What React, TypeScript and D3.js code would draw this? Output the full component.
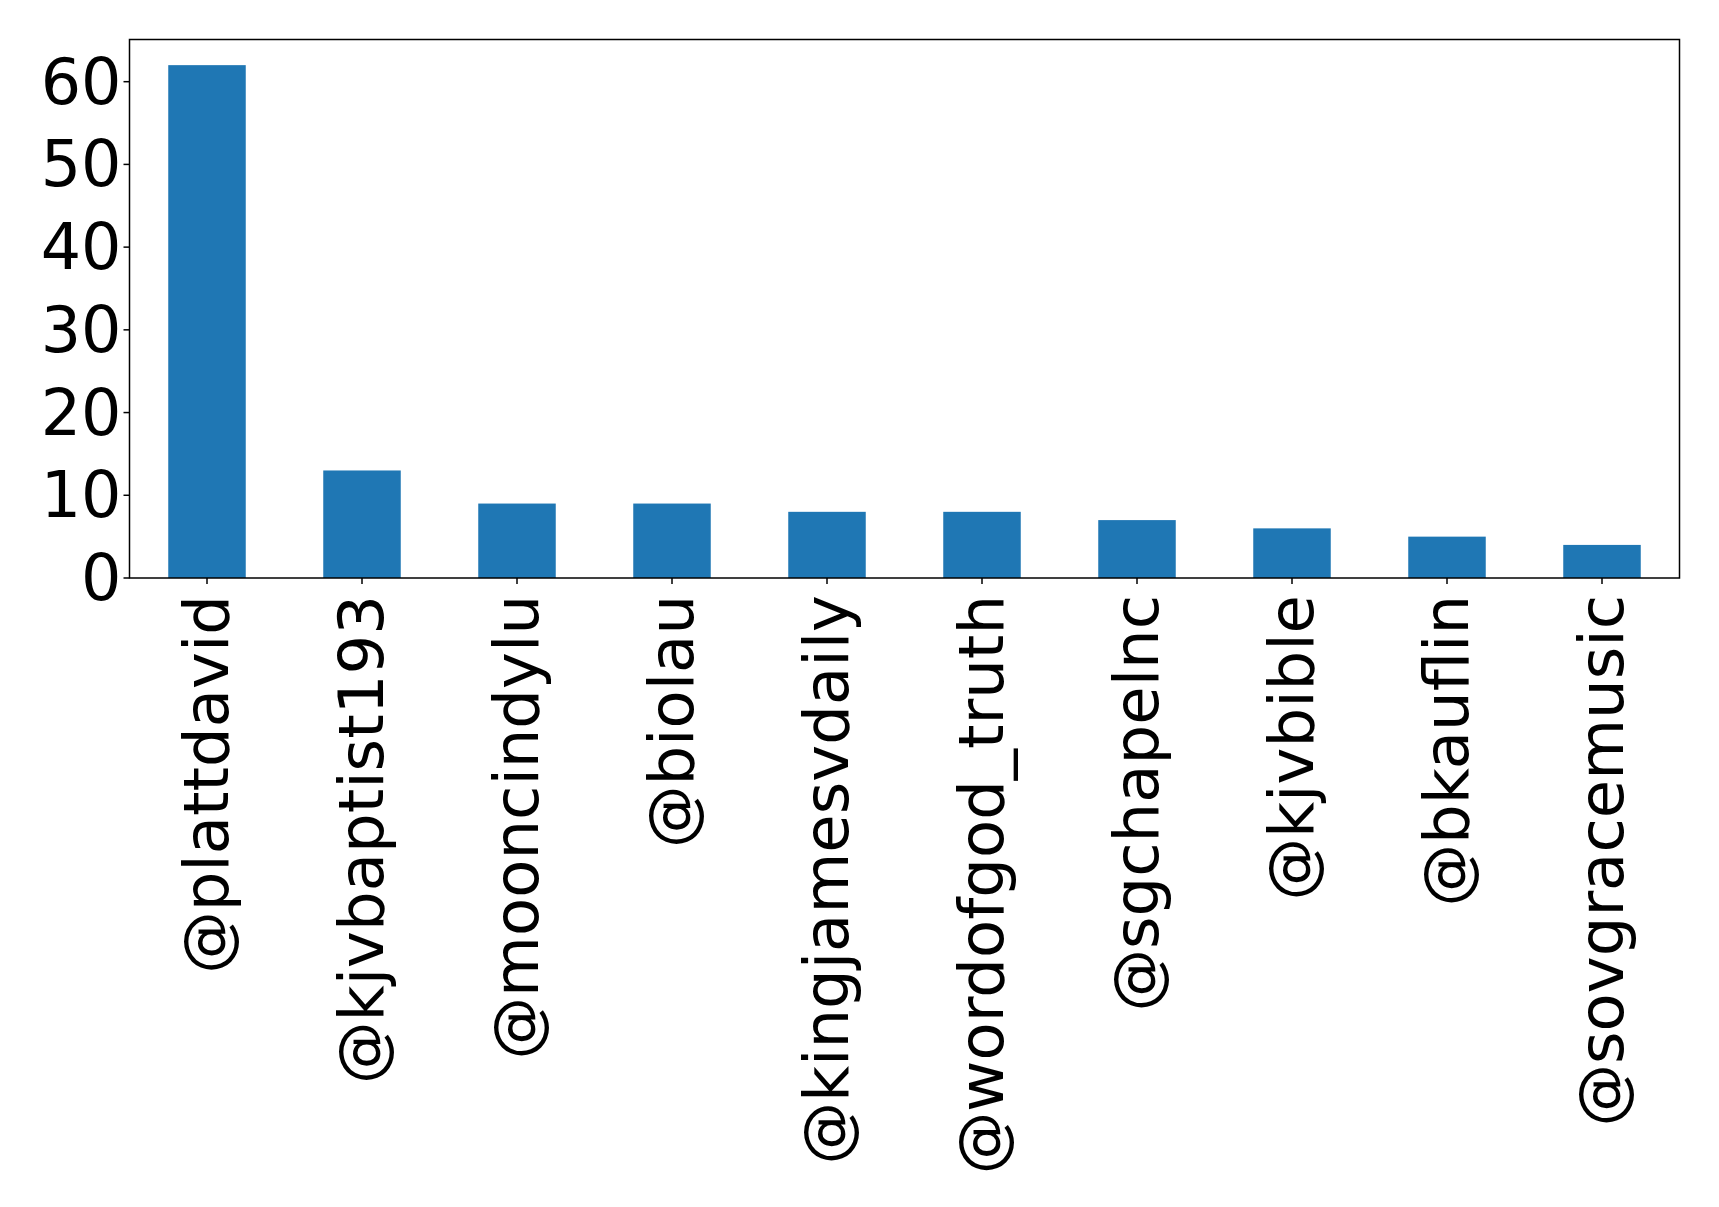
import React from "react";
import * as d3 from "d3";

const categories = [
  "@plattdavid",
  "@kjvbaptist193",
  "@mooncindylu",
  "@biolau",
  "@kingjamesvdaily",
  "@wordofgod_truth",
  "@sgchapelnc",
  "@kjvbible",
  "@bkauflin",
  "@sovgracemusic",
];
const values = [62, 13, 9, 9, 8, 8, 7, 6, 5, 4];
const yTicks = [0, 10, 20, 30, 40, 50, 60];

const W = 1719;
const H = 1207;
const left = 129.5;
const right = 1679.5;
const top = 39.5;
const bottom = 578;
const FONT = "DejaVu Sans, sans-serif";
const FS = 62.5;

export default function App() {
  const x = d3.scaleBand<string>().domain(categories).range([left, right]).paddingInner(0.5).paddingOuter(0.25);
  const yMax = d3.max(values)! * 1.05;
  const y = d3.scaleLinear().domain([0, yMax]).range([bottom, top]);

  return (
    <div style={{ position: "fixed", left: 0, top: 0, background: "#fff" }}>
      <svg width={W} height={H} style={{ display: "block" }}>
        <rect x={0} y={0} width={W} height={H} fill="#fff" />
        {categories.map((c, i) => (
          <rect
            key={c}
            x={x(c)}
            y={y(values[i])}
            width={x.bandwidth()}
            height={bottom - y(values[i])}
            fill="#1f77b4"
          />
        ))}
        <rect x={left} y={top} width={right - left} height={bottom - top} fill="none" stroke="#000" strokeWidth={1.5} />
        {yTicks.map((t) => (
          <g key={t}>
            <line x1={left - 6} x2={left} y1={y(t)} y2={y(t)} stroke="#000" strokeWidth={1.5} />
            <text
              x={left - 8}
              y={y(t)}
              textAnchor="end"
              dominantBaseline="central"
              fontFamily={FONT}
              fontSize={63.5}
              fill="#000"
            >
              {t}
            </text>
          </g>
        ))}
        {categories.map((c) => {
          const cx = x(c)! + x.bandwidth() / 2;
          return (
            <g key={c}>
              <line x1={cx} x2={cx} y1={bottom} y2={bottom + 6} stroke="#000" strokeWidth={1.5} />
              <text
                transform={`translate(${cx - 1},${bottom + 17}) rotate(-90)`}
                textAnchor="end"
                dominantBaseline="central"
                fontFamily={FONT}
                fontSize={FS}
                fill="#000"
              >
                {c}
              </text>
            </g>
          );
        })}
      </svg>
    </div>
  );
}
